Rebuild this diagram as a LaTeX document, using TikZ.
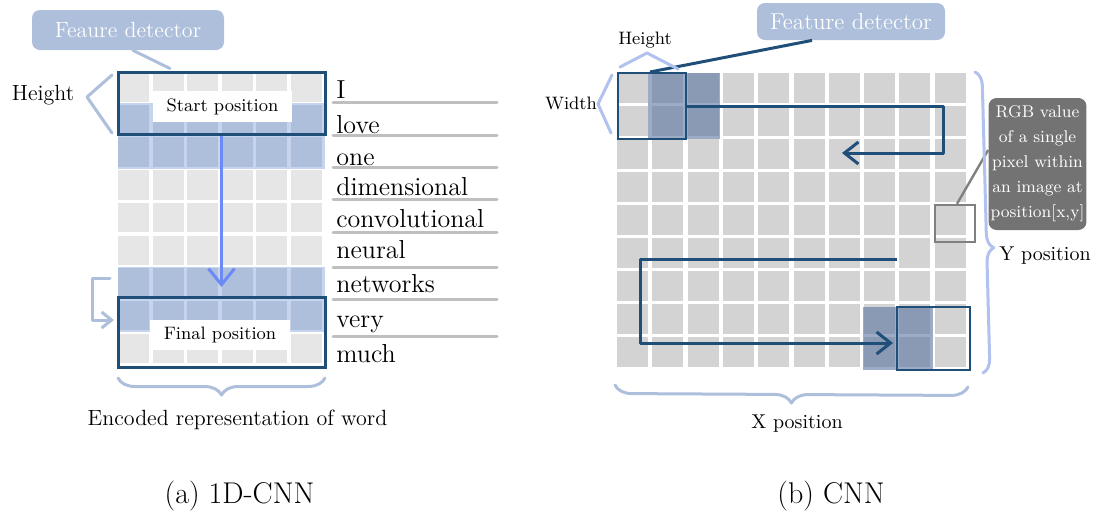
\documentclass[tikz,border=0pt]{standalone}
\usepackage{fontspec}
\usetikzlibrary{arrows.meta, decorations.pathreplacing}

\definecolor{cellgray}{RGB}{230,230,230}
\definecolor{pixgray}{RGB}{211,211,211}
\definecolor{bandblue}{RGB}{173,191,219}
\definecolor{bandgap}{RGB}{198,212,238}
\definecolor{frameblue}{RGB}{31,78,121}
\definecolor{slideblue}{RGB}{108,138,245}
\definecolor{periblue}{RGB}{178,194,238}
\definecolor{linegray}{RGB}{191,191,191}
\definecolor{calloutgray}{RGB}{115,115,115}
\definecolor{pixline}{RGB}{128,128,128}
\definecolor{shadeblue}{RGB}{90,115,160}

\begin{document}
\begin{tikzpicture}[
        x=0.5pt, y=-0.5pt,
        lbl/.style={inner sep=0pt, font=\fontsize{11}{13}\selectfont},
        smalllbl/.style={inner sep=0pt, font=\fontsize{9}{11}\selectfont},
        poslbl/.style={inner sep=0pt, font=\fontsize{10}{12}\selectfont},
        word/.style={inner sep=0pt, anchor=base west, font=\fontsize{13}{15}\selectfont},
        caption/.style={inner sep=0pt, anchor=base, font=\fontsize{15}{18}\selectfont},
        fdbox/.style={rectangle, rounded corners=4pt, fill=bandblue, text=white, inner sep=0pt},
        posbox/.style={rectangle, fill=white, inner sep=0pt, font=\fontsize{9}{11}\selectfont},
        rgbbox/.style={rectangle, rounded corners=4pt, fill=calloutgray, text=white, inner sep=1pt, align=center, font=\fontsize{8.5}{12.5}\selectfont},
        kframe/.style={rectangle, draw=frameblue, line width=1.5pt, inner sep=0pt},
        kthin/.style={rectangle, draw=frameblue, line width=1pt, inner sep=0pt},
        bracket/.style={draw=bandblue, line width=1.5pt, line join=round, line cap=round},
        peri/.style={draw=periblue, line width=1.5pt, line join=round, line cap=round},
        slide/.style={draw=slideblue, line width=1.5pt, -{Straight Barb[length=8pt, width=13pt]}},
        scan/.style={draw=frameblue, line width=1.5pt, line join=round},
        wordline/.style={draw=linegray, line width=1.5pt, line cap=round}
    ]
        \useasboundingbox (0,0) rectangle (1098,521);

        % 1D-CNN: word matrix
        \foreach \j in {0,...,8}
            \foreach \i in {0,...,5}
                \fill[cellgray] (118+34.6*\i, 72+32.7*\j) rectangle ++(31,29.5);
        \foreach \j in {1,2,6,7} {
            \fill[bandgap] (118, 72+32.7*\j-1.6) rectangle (325, 72+32.7*\j+31.1);
            \foreach \i in {0,...,5}
                \fill[bandblue] (118+34.6*\i, 72+32.7*\j) rectangle ++(31,29.5);
        }

        % Start and final positions
        \node[posbox, minimum width=69.5pt, minimum height=15.5pt] (startlbl) at (222.5,106.5) {Start position};
        \node[posbox, minimum width=70pt, minimum height=15pt] (finallbl) at (220,335) {Final position};
        \node[kframe, minimum width=103.5pt, minimum height=31pt] (startpos) at (221.5,103) {};
        \node[kframe, minimum width=103.5pt, minimum height=35pt] (finalpos) at (221.5,332) {};

        % Feature detector (left)
        \node[fdbox, minimum width=96pt, minimum height=20pt, font=\fontsize{11}{13}\selectfont] (fdone) at (128,30) {Feaure detector};
        \draw[bracket] ([xshift=2.5pt]fdone.south) -- ([xshift=-25.75pt, yshift=1pt]startpos.north);
        \node[lbl] (hone) at (43,95) {Height};
        \draw[bracket] (112,75) -- (87,97) -- (112,133);
        \draw[bracket, -{Straight Barb[length=5pt, width=8pt]}] (110,278) -- (92,278) -- (92,320) -- (114,320);

        % Sliding direction
        \coordinate (slidetip) at (221.5,287);
        \draw[slide] (startpos.south) -- (slidetip);

        % Words
        \foreach \w/\b in {I/98, love/133, one/165, dimensional/195, convolutional/227, neural/258, networks/292, very/327, much/362}
            \node[word] (w-\w) at (336,\b) {\w};
        \foreach \y in {102,135,167,199,232,267,299,336}
            \draw[wordline] (333,\y) -- (497,\y);

        \draw[bracket, decorate, decoration={brace, mirror, amplitude=8.5pt, aspect=0.5}] (118,378) -- (325,378);
        \node[lbl, anchor=base] (enc) at (237.5,425) {Encoded representation of word};
        \node[caption] (capa) at (239.5,503) {(a) 1D-CNN};

        % CNN: pixel matrix
        \foreach \j in {0,...,8}
            \foreach \i in {0,...,9}
                \fill[pixgray] (617+35.3*\i, 73+33*\j) rectangle ++(31,29.5);
        \fill[shadeblue, opacity=0.6] (648,73) rectangle (720,139);
        \fill[shadeblue, opacity=0.6] (863,307) rectangle (933,370);
        \node[kthin, minimum width=34pt, minimum height=33pt] (kstart) at (652,106) {};
        \node[kthin, minimum width=36.5pt, minimum height=31.5pt] (kend) at (933.5,338.5) {};

        % Feature detector (right)
        \node[fdbox, minimum width=94pt, minimum height=18.5pt, font=\fontsize{11.5}{13}\selectfont] (fdtwo) at (851,21.5) {Feature detector};
        \draw[scan] ([xshift=-19.5pt]fdtwo.south) -- ([xshift=-1pt]kstart.north);
        \node[smalllbl] (htwo) at (645,40) {Height};
        \draw[peri] (620,67) -- (647,53) -- (678,69);
        \node[smalllbl] (wtwo) at (571,103) {Width};
        \draw[peri] (612,75) -- (598,104) -- (611,133);

        % Scan path
        \coordinate (rowend) at (943,153);
        \coordinate (backtip) at (842,153);
        \coordinate (nextrow) at (897,259);
        \coordinate (rowstart) at (640,343);
        \coordinate (endtip) at (893,343);
        \draw[scan, -{Straight Barb[length=7pt, width=11pt]}] (kstart.east) -| (rowend) -- (backtip);
        \draw[scan, -{Straight Barb[length=7pt, width=11pt]}] (nextrow) -| (rowstart) -- (endtip);

        % Single pixel
        \node[rectangle, draw=pixline, line width=1.2pt, minimum width=20pt, minimum height=18.5pt] (pix) at (955,223.5) {};
        \node[rgbbox, minimum width=47.5pt, minimum height=66pt] (rgb) at (1037.5,164) {RGB value\\of a single\\pixel within\\an image at\\position[x,y]};
        \draw[draw=pixline, line width=1.2pt] ([xshift=1pt]pix.north) -- ([yshift=7pt]rgb.west);

        % Axes
        \draw[peri, decorate, decoration={brace, amplitude=7pt, aspect=0.585}] (975,72) -- (983,373);
        \node[poslbl, anchor=base west] (ypos) at (999,260) {Y position};
        \draw[bracket, decorate, decoration={brace, mirror, amplitude=8.5pt, aspect=0.5}] (615,385) -- (968,387);
        \node[poslbl, anchor=base] (xpos) at (797,428) {X position};
        \node[caption] (capb) at (831,503) {(b) CNN};

    \end{tikzpicture}
\end{document}
